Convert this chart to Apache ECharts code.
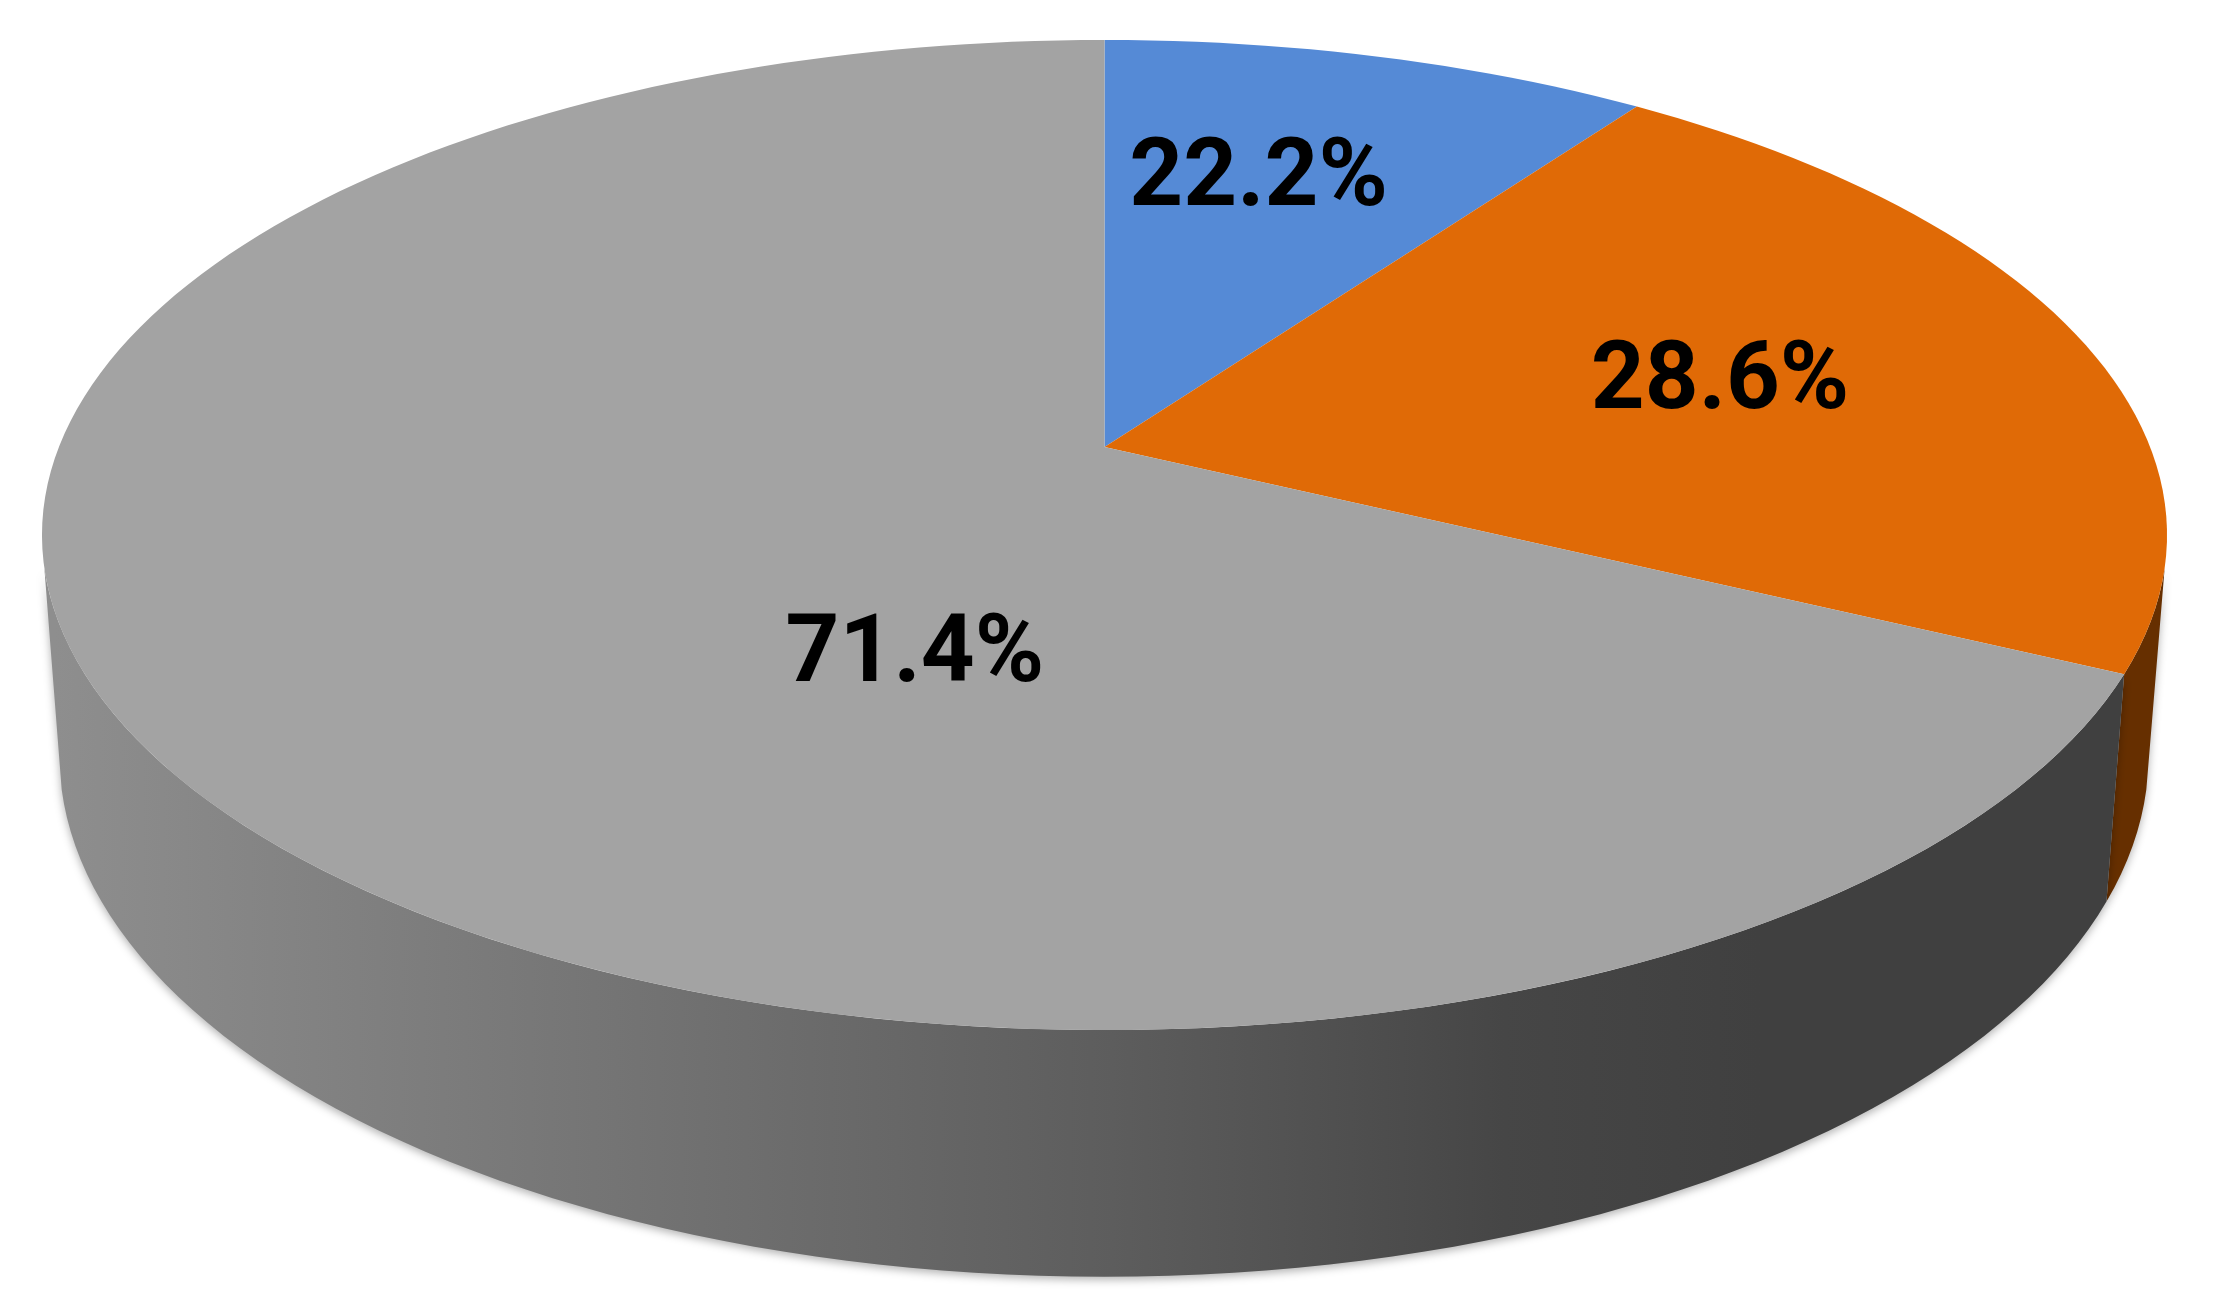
<!DOCTYPE html>
<html>
<head>
<meta charset="utf-8">
<style>html,body{margin:0;padding:0;background:#fff}#chart{width:2214px;height:1312px;filter:blur(0.7px)}</style>
<script src="https://cdn.jsdelivr.net/npm/echarts@6/dist/echarts.min.js"></script>
</head>
<body>
<div id="chart"></div>
<script>
// Data
var categories = ['A', 'B', 'C'];
var sliceShares = [9.9, 22.3, 67.8];          // sweep of each slice, percent of the circle
var printedLabels = ['22.2%', '28.6%', '71.4%']; // text as printed on the chart

// Styling
var topColors = ['#558ad6', '#e06a06', '#a3a3a3'];
var wallColors = ['#33567f', '#662f00', null];
var visibleWall = [104, 256];  // degrees of the rim that face the viewer (silhouette to silhouette)
var labelSpots = [[14.4, 0.66], [75.5, 0.625], [203.4, 0.425]]; // angle, radius inside the disc
var labelDrop = 10;

// Perspective of the disc: top face and bottom face
var topFace = {cx: 1104.5, cy: 447, a: 479.4, k: 1045.6, c: -0.1778};
var bottomFace = {cx: 1104, cy: 662, a: 505.5, k: 1028, c: -0.1778};

function project(face, deg, r) {
  var t = deg * Math.PI / 180;
  var s = -Math.cos(t) * r, x = Math.sin(t) * r;
  var d = 1 + face.c * s;
  return [face.cx + face.k * x / d, face.cy + face.a * s / d];
}
function arc(face, from, to, api) {
  var pts = [], n = Math.max(2, Math.ceil(Math.abs(to - from) / 1.5));
  for (var i = 0; i <= n; i++) {
    pts.push(api.coord(project(face, from + (to - from) * i / n, 1)));
  }
  return pts;
}

var ranges = [], acc = 0, total = sliceShares.reduce(function (p, v) { return p + v; }, 0);
sliceShares.forEach(function (v, i) {
  var start = acc / total * 360;
  acc += v;
  ranges.push([start, acc / total * 360, i, v]);
});

function renderWall(params, api) {
  var i = api.value(2);
  var from = Math.max(api.value(0), visibleWall[0]);
  var to = Math.min(api.value(1), visibleWall[1]);
  if (to <= from) return {type: 'group', children: []};
  var pts = arc(topFace, from, to, api).concat(arc(bottomFace, to, from, api));
  var left = api.coord([55, 0])[0], right = api.coord([1760, 0])[0];
  var fill = wallColors[i] || {
    type: 'linear', x: left, y: 0, x2: right, y2: 0, global: true,
    colorStops: [
      {offset: 0, color: '#8e8e8e'},
      {offset: 0.62, color: '#5d5d5d'},
      {offset: 0.85, color: '#464646'},
      {offset: 1, color: '#404040'}
    ]
  };
  return {
    type: 'polygon',
    shape: {points: pts},
    style: {fill: fill, shadowColor: 'rgba(0,0,0,0.30)', shadowBlur: 8, shadowOffsetY: 3}
  };
}

function renderTop(params, api) {
  var i = api.value(2);
  var pts = [api.coord(project(topFace, 0, 0))].concat(arc(topFace, api.value(0), api.value(1), api));
  var spot = api.coord(project(topFace, labelSpots[i][0], labelSpots[i][1]));
  return {
    type: 'group',
    children: [
      {type: 'polygon', z2: 1, shape: {points: pts}, style: {fill: topColors[i]}},
      {type: 'text', z2: 10, x: spot[0], y: spot[1] + labelDrop, style: {
        text: printedLabels[i], fill: '#000', fontFamily: 'Roboto', fontWeight: 700, fontSize: 94,
        align: 'center', verticalAlign: 'middle'
      }}
    ]
  };
}

var chart = echarts.init(document.getElementById('chart'), null, {renderer: 'canvas'});
chart.setOption({
  backgroundColor: '#ffffff',
  animation: false,
  tooltip: {show: false},
  grid: {left: 0, right: 0, top: 0, bottom: 0},
  xAxis: {type: 'value', min: 0, max: 2214, show: false},
  yAxis: {type: 'value', min: 0, max: 1312, inverse: true, show: false},
  series: [
    {type: 'custom', name: 'rim', clip: false, silent: true, z: 1, renderItem: renderWall, data: ranges},
    {type: 'custom', name: 'top', clip: false, silent: true, z: 2, renderItem: renderTop, data: ranges}
  ]
});
</script>
</body>
</html>
